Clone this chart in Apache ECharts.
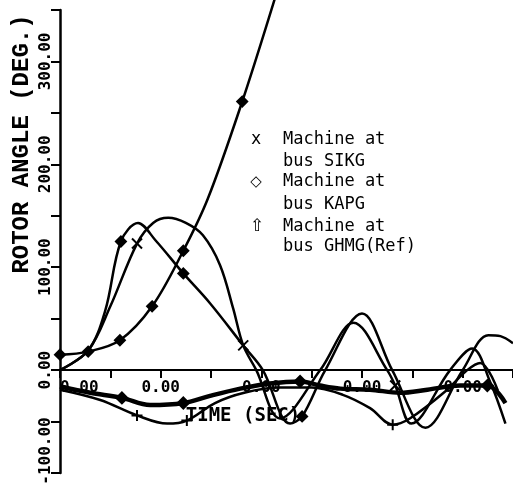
<!DOCTYPE html>
<html>
<head>
<meta charset="utf-8">
<script src="https://cdn.jsdelivr.net/npm/echarts/dist/echarts.min.js"></script>
<style>
  html, body { margin: 0; padding: 0; background: #fff; }
  #main { width: 513px; height: 487px; }
</style>
</head>
<body>
<div id="main"></div>
<script>
// tick labels as printed on the scan
var xLabelVals = [0, 0.2, 0.4, 0.6, 0.8];
var xLabelText = ['0.00', '0.00', '0.00', '0.00', '0.00'];
var yLabelVals = [-100, 0, 100, 200, 300];
var yLabelText = ['-100.00', '0.00', '100.00', '200.00', '300.00'];

// curve that runs away (off the top)
var tA = [0, 0.056, 0.119, 0.183, 0.245, 0.294, 0.362, 0.423, 0.45];
var aA = [15, 18, 29, 62, 116, 167, 261, 355, 400];
var markA = [0, 1, 2, 3, 4, 6];

// early peak, diamonds
var tB = [0, 0.056, 0.09, 0.121, 0.155, 0.19, 0.245, 0.298, 0.364, 0.403, 0.457, 0.481, 0.527, 0.6, 0.66, 0.726, 0.8, 0.851, 0.875, 0.9];
var aB = [0, 19, 58, 125, 143, 126, 94, 65, 24, 0, -52, -45, 0, 55, 0, -56, 0, 34, 33, 26];
var markB = [3, 6, 11];

// later peak, x marks
var tC = [0, 0.056, 0.1, 0.153, 0.185, 0.215, 0.25, 0.284, 0.318, 0.344, 0.364, 0.39, 0.437, 0.517, 0.583, 0.65, 0.666, 0.698, 0.775, 0.819, 0.855, 0.885];
var aC = [0, 19, 62, 123, 143, 148, 143, 131, 102, 60, 24, 0, -47, 0, 46, 0, -15, -52, 0, 21, -12, -52];
var markC = [3, 10, 16];

// thick low curve
var tD = [0, 0.06, 0.123, 0.179, 0.245, 0.298, 0.358, 0.417, 0.477, 0.517, 0.557, 0.616, 0.676, 0.73, 0.795, 0.849, 0.885];
var aD = [-16, -22, -27, -34, -32, -25, -18, -13, -11, -15, -18, -19, -22, -19, -15, -15, -32];
var markD = [2, 4, 8, 15];

// thin low curve, + marks
var tE = [0, 0.08, 0.153, 0.213, 0.252, 0.308, 0.366, 0.437, 0.5, 0.562, 0.616, 0.661, 0.695, 0.767, 0.809, 0.835, 0.87];
var aE = [-19, -29, -44, -52, -49, -32, -22, -17, -17, -24, -37, -53, -47, -20, 0, 7, -20];
var markE = [2, 4, 11];

var symX = 'path://M0 0L10 10M10 0L0 10';
var symPlus = 'path://M5 0L5 10M0 5L10 5';

var yMin = -100, yMax = 350;
var gridTop = 10, gridBottom = 14, H = 487;

function build(t, a, marks, sym) {
  var out = [];
  for (var i = 0; i < t.length; i++) {
    out.push({ value: [t[i], a[i]], symbol: marks.indexOf(i) >= 0 ? sym : 'none' });
  }
  return out;
}

function curve(name, data, width, size, clip) {
  return {
    name: name,
    type: 'line',
    data: data,
    smooth: 0.35,
    clip: clip,
    showAllSymbol: true,
    symbolSize: size,
    lineStyle: { color: '#000', width: width },
    itemStyle: { color: '#000', borderColor: '#000', borderWidth: 2 },
    z: 3
  };
}

function findLabel(v, vals, txt) {
  for (var i = 0; i < vals.length; i++) {
    if (Math.abs(v - vals[i]) < 1e-6) return txt[i];
  }
  return '';
}

// move the time axis up onto the zero line
var plotH = H - gridTop - gridBottom;
var zeroOffset = -plotH * (0 - yMin) / (yMax - yMin);

var chart = echarts.init(document.getElementById('main'));
chart.setOption({
  backgroundColor: '#fff',
  animation: false,
  grid: { left: 60, right: 0, top: gridTop, bottom: gridBottom, containLabel: false, outerBoundsMode: 'none' },
  xAxis: {
    type: 'value',
    min: 0, max: 0.9, interval: 0.1,
    offset: zeroOffset,
    axisLine: { onZero: false, lineStyle: { color: '#000', width: 2 } },
    axisTick: { show: true, length: 8, lineStyle: { color: '#000', width: 2 } },
    splitLine: { show: false },
    axisLabel: {
      color: '#000', fontFamily: 'DejaVu Sans Mono', fontWeight: 'bold', fontSize: 16, margin: 10,
      showMinLabel: true, showMaxLabel: true, hideOverlap: false, alignMinLabel: 'left',
      formatter: function (v) { return findLabel(v, xLabelVals, xLabelText); }
    }
  },
  yAxis: {
    type: 'value',
    min: yMin, max: yMax, interval: 50,
    axisLine: { onZero: false, lineStyle: { color: '#000', width: 2.5 } },
    axisTick: { show: true, length: 9, lineStyle: { color: '#000', width: 2 } },
    splitLine: { show: false },
    axisLabel: {
      rotate: 90, color: '#000', fontFamily: 'DejaVu Sans Mono', fontWeight: 'bold', fontSize: 16, margin: 6,
      showMinLabel: true, showMaxLabel: true, hideOverlap: false,
      formatter: function (v) {
        var s = findLabel(v, yLabelVals, yLabelText);
        return (s && v === yMin) ? '{m|' + s + '}' : s;
      },
      rich: { m: { padding: [0, 0, 0, 44], fontFamily: 'DejaVu Sans Mono', fontWeight: 'bold', fontSize: 16, color: '#000' } }
    }
  },
  graphic: [
    { type: 'text', x: 22, y: 144, rotation: Math.PI / 2,
      style: { text: 'ROTOR ANGLE (DEG.)', font: 'bold 24px "Liberation Mono"', fill: '#000', align: 'center', verticalAlign: 'middle' } },
    { type: 'text', x: 243, y: 416,
      style: { text: 'TIME (SEC)', font: 'bold 19px "DejaVu Sans Mono"', fill: '#000', align: 'center', verticalAlign: 'middle' } },
    { type: 'text', x: 256, y: 140, style: { text: 'x', font: '17px "DejaVu Sans Mono"', fill: '#000', align: 'center', verticalAlign: 'middle' } },
    { type: 'text', x: 256, y: 182, style: { text: '\u25C7', font: '15px "DejaVu Sans"', fill: '#000', align: 'center', verticalAlign: 'middle' } },
    { type: 'text', x: 257, y: 227, style: { text: '\u21E7', font: '17px "DejaVu Sans"', fill: '#000', align: 'center', verticalAlign: 'middle' } },
    { type: 'text', x: 283, y: 140, style: { text: 'Machine at', font: '17px "DejaVu Sans Mono"', fill: '#000', verticalAlign: 'middle' } },
    { type: 'text', x: 283, y: 162, style: { text: 'bus SIKG', font: '17px "DejaVu Sans Mono"', fill: '#000', verticalAlign: 'middle' } },
    { type: 'text', x: 283, y: 182, style: { text: 'Machine at', font: '17px "DejaVu Sans Mono"', fill: '#000', verticalAlign: 'middle' } },
    { type: 'text', x: 283, y: 205, style: { text: 'bus KAPG', font: '17px "DejaVu Sans Mono"', fill: '#000', verticalAlign: 'middle' } },
    { type: 'text', x: 283, y: 227, style: { text: 'Machine at', font: '17px "DejaVu Sans Mono"', fill: '#000', verticalAlign: 'middle' } },
    { type: 'text', x: 283, y: 247, style: { text: 'bus GHMG(Ref)', font: '17px "DejaVu Sans Mono"', fill: '#000', verticalAlign: 'middle' } }
  ],
  series: [
    curve('A', build(tA, aA, markA, 'diamond'), 2.5, 10, false),
    curve('B', build(tB, aB, markB, 'diamond'), 2.5, 10, true),
    curve('C', build(tC, aC, markC, symX), 2.5, 10, true),
    curve('D', build(tD, aD, markD, 'diamond'), 4.5, 11, true),
    curve('E', build(tE, aE, markE, symPlus), 2.5, 11, true)
  ]
});
</script>
</body>
</html>
